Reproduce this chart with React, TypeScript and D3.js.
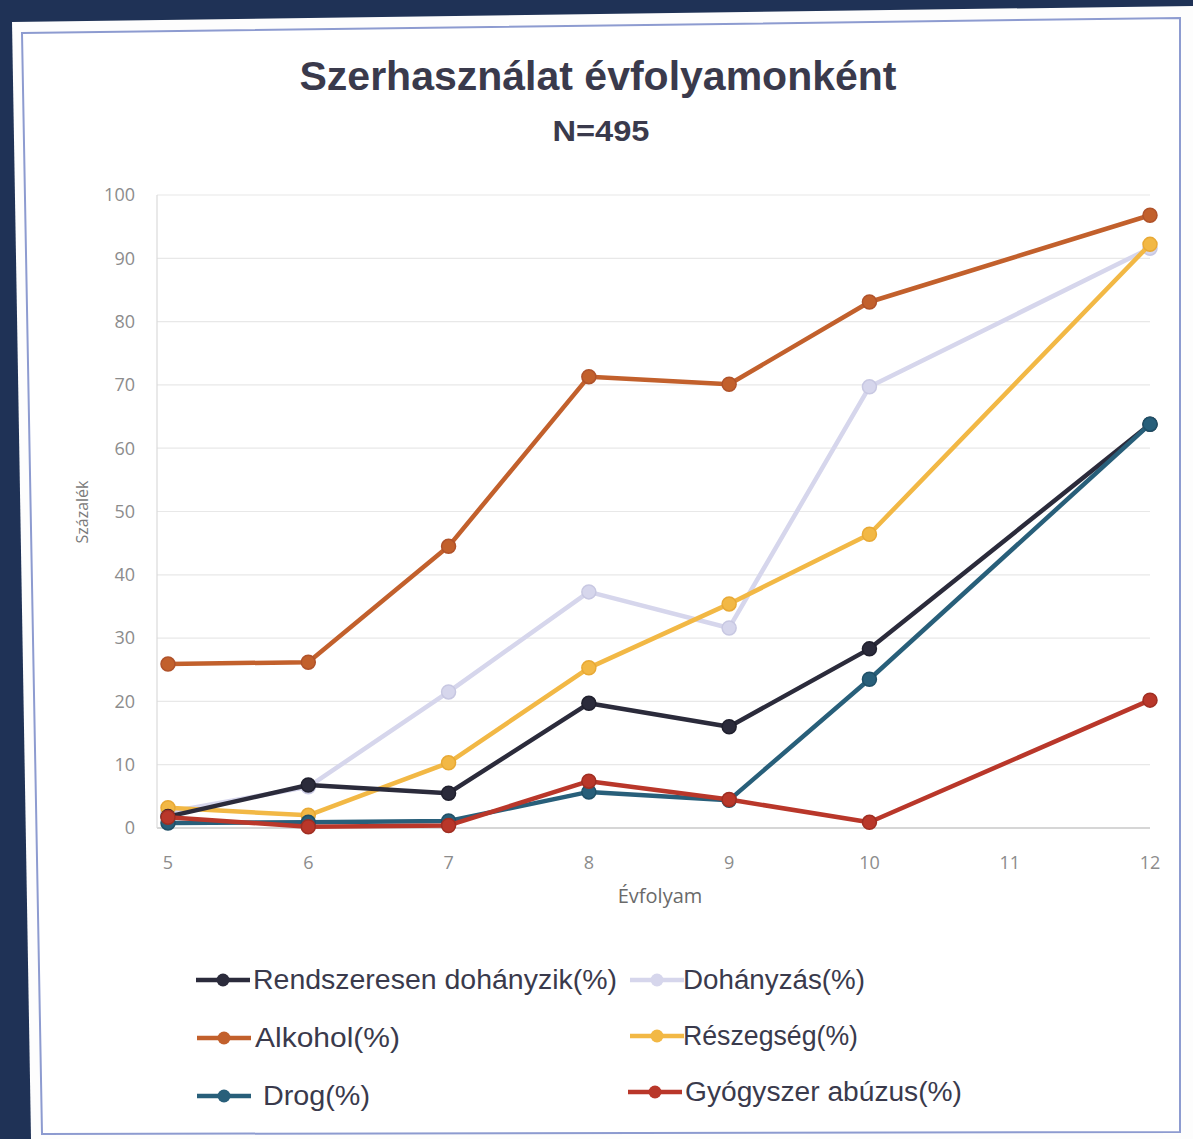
import React from "react";
import * as d3 from "d3";

const years = [5, 6, 7, 8, 9, 10, 11, 12];
const yTicks = [0, 10, 20, 30, 40, 50, 60, 70, 80, 90, 100];

const rendszeresen: (number | null)[] = [1.8, 6.8, 5.5, 19.7, 16, 28.3, null, 63.8];
const dohanyzas: (number | null)[] = [2.5, 6.5, 21.5, 37.3, 31.6, 69.7, null, 91.6];
const alkohol: (number | null)[] = [25.9, 26.2, 44.5, 71.3, 70.1, 83.1, null, 96.8];
const reszegseg: (number | null)[] = [3.2, 2.0, 10.3, 25.3, 35.4, 46.4, null, 92.2];
const drog: (number | null)[] = [0.8, 0.9, 1.1, 5.7, 4.4, 23.5, null, 63.8];
const gyogyszer: (number | null)[] = [1.7, 0.2, 0.4, 7.4, 4.5, 0.9, null, 20.2];

const seriesNames = [
  "Rendszeresen dohányzik(%)",
  "Dohányzás(%)",
  "Alkohol(%)",
  "Részegség(%)",
  "Drog(%)",
  "Gyógyszer abúzus(%)",
];

const title = "Szerhasználat évfolyamonként";
const subtitle = "N=495";
const yLabel = "Százalék";
const xLabel = "Évfolyam";

const W = 1193;
const H = 1139;
const FONT = "'Liberation Sans Narrow', 'Liberation Sans', Arial, sans-serif";
const TICKFONT = "'Open Sans', 'DejaVu Sans', sans-serif";

export default function App() {
  const x = d3.scaleLinear().domain([5, 12]).range([168, 1150]);
  const y = d3.scaleLinear().domain([0, 100]).range([828, 195]);

  const series = [
    { name: seriesNames[1], values: dohanyzas, color: "#d6d6ec", stroke: "#c8c8e2" },
    { name: seriesNames[3], values: reszegseg, color: "#f2b845", stroke: "#e8a935" },
    { name: seriesNames[2], values: alkohol, color: "#c2602c", stroke: "#b0522a" },
    { name: seriesNames[0], values: rendszeresen, color: "#2b2b3b", stroke: "#20202e" },
    { name: seriesNames[4], values: drog, color: "#285f7a", stroke: "#1f5068" },
    { name: seriesNames[5], values: gyogyszer, color: "#b9372a", stroke: "#a02e22" },
  ];

  const line = d3
    .line<[number, number]>()
    .x((d) => x(d[0]))
    .y((d) => y(d[1]));

  const legendItems = [
    { name: seriesNames[0], color: "#2b2b3b", lx: 196, tx: 253, ty: 980, tw: 364 },
    { name: seriesNames[1], color: "#d6d6ec", lx: 630, tx: 683, ty: 980, tw: 182 },
    { name: seriesNames[2], color: "#c2602c", lx: 197, tx: 255, ty: 1038, tw: 145 },
    { name: seriesNames[3], color: "#f2b845", lx: 630, tx: 683, ty: 1036, tw: 175 },
    { name: seriesNames[4], color: "#285f7a", lx: 197, tx: 263, ty: 1096, tw: 107 },
    { name: seriesNames[5], color: "#b9372a", lx: 628, tx: 685, ty: 1092, tw: 277 },
  ];

  return (
    <svg
      width={W}
      height={H}
      style={{ position: "absolute", left: 0, top: 0, display: "block" }}
    >
      <rect x={0} y={0} width={W} height={H} fill="#1f3256" />
      <polygon points="12,22 1193,6 1193,1139 31,1139" fill="#fdfdfd" />
      <polygon
        points="22,33 1180,18 1180,1132 42,1134"
        fill="#ffffff"
        stroke="#8d9bd0"
        strokeWidth={2}
      />

      <text
        x={598}
        y={90}
        textAnchor="middle"
        fontFamily={FONT}
        fontWeight="bold"
        fontSize={40}
        fill="#3a3a4c"
        textLength={597}
        lengthAdjust="spacingAndGlyphs"
      >
        {title}
      </text>
      <text
        x={601}
        y={141}
        textAnchor="middle"
        fontFamily={FONT}
        fontWeight="bold"
        fontSize={30}
        fill="#3a3a4c"
        textLength={97}
        lengthAdjust="spacingAndGlyphs"
      >
        {subtitle}
      </text>

      {yTicks.map((t) => (
        <g key={t}>
          <line
            x1={157}
            x2={1150}
            y1={y(t)}
            y2={y(t)}
            stroke={t === 0 ? "#c8c8c8" : "#e8e8e8"}
            strokeWidth={t === 0 ? 1.5 : 1.2}
          />
          <text
            x={135}
            y={y(t)}
            dy="0.35em"
            textAnchor="end"
            fontFamily={TICKFONT}
            fontSize={18}
            fill="#8c8c8c"
          >
            {t}
          </text>
        </g>
      ))}
      <line x1={157} x2={157} y1={y(100)} y2={y(0)} stroke="#dadada" strokeWidth={1.2} />

      {years.map((v) => (
        <text
          key={v}
          x={x(v)}
          y={863}
          dy="0.35em"
          textAnchor="middle"
          fontFamily={TICKFONT}
          fontSize={18}
          fill="#8c8c8c"
        >
          {v}
        </text>
      ))}

      <text
        x={660}
        y={903}
        textAnchor="middle"
        fontFamily={TICKFONT}
        fontSize={20}
        fill="#6a6a6a"
      >
        {xLabel}
      </text>
      <text
        transform={`translate(88,512) rotate(-90)`}
        textAnchor="middle"
        fontFamily={TICKFONT}
        fontSize={16}
        fill="#7a7a7a"
      >
        {yLabel}
      </text>

      {series.map((s) => {
        const pts: [number, number][] = years
          .map((yr, i) => [yr, s.values[i]] as [number, number | null])
          .filter((d) => d[1] !== null) as [number, number][];
        return (
          <g key={s.name}>
            <path
              d={line(pts) || ""}
              fill="none"
              stroke={s.color}
              strokeWidth={4.5}
              strokeLinejoin="round"
              strokeLinecap="round"
            />
            {pts.map((p) => (
              <circle
                key={p[0]}
                cx={x(p[0])}
                cy={y(p[1])}
                r={7}
                fill={s.color}
                stroke={s.stroke}
                strokeWidth={1.5}
              />
            ))}
          </g>
        );
      })}

      {legendItems.map((l) => (
        <g key={l.name}>
          <line
            x1={l.lx}
            x2={l.lx + 54}
            y1={l.ty}
            y2={l.ty}
            stroke={l.color}
            strokeWidth={4.5}
          />
          <circle cx={l.lx + 27} cy={l.ty} r={6.5} fill={l.color} />
          <text
            x={l.tx}
            y={l.ty}
            dy="0.35em"
            fontFamily={FONT}
            fontSize={27}
            fill="#3a3a4c"
            textLength={l.tw}
            lengthAdjust="spacingAndGlyphs"
          >
            {l.name}
          </text>
        </g>
      ))}
    </svg>
  );
}
